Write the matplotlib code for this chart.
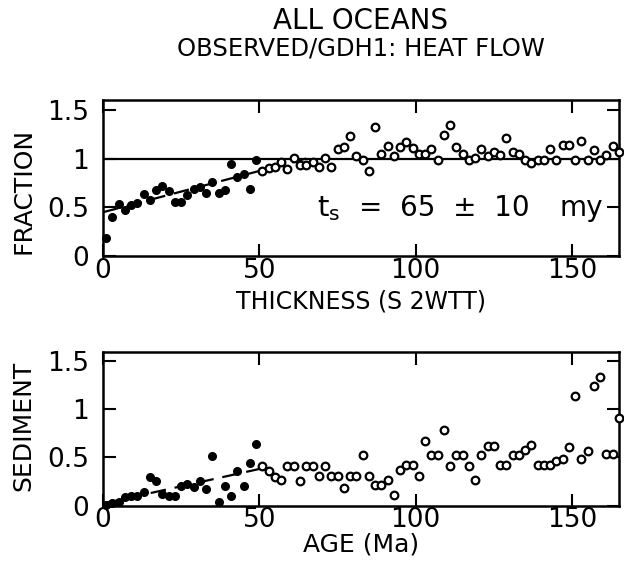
import matplotlib

matplotlib.use("Agg")
import matplotlib.pyplot as plt
import numpy as np
from matplotlib.ticker import FixedLocator, FuncFormatter

# 2 Ma age bins, centred on odd ages
age = np.arange(1, 166, 2)

# observed / GDH1 heat flow ratio per bin
heat_ratio = [
    0.19, 0.40, 0.53, 0.47, 0.52, 0.54, 0.64, 0.58, 0.68, 0.72,
    0.67, 0.55, 0.55, 0.63, 0.69, 0.71, 0.65, 0.76, 0.65, 0.68,
    0.94, 0.81, 0.84, 0.69, 0.98, 0.87, 0.90, 0.91, 0.96, 0.89,
    1.01, 0.93, 0.93, 0.96, 0.91, 1.01, 0.91, 1.10, 1.12, 1.23,
    1.03, 0.98, 0.87, 1.32, 1.05, 1.13, 1.03, 1.12, 1.17, 1.11,
    1.05, 1.05, 1.10, 0.98, 1.24, 1.34, 1.12, 1.05, 0.99, 1.01,
    1.10, 1.03, 1.07, 1.04, 1.21, 1.07, 1.05, 0.98, 0.95, 0.99,
    0.98, 1.10, 0.99, 1.14, 1.14, 0.99, 1.18, 0.99, 1.09, 0.98,
    1.04, 1.13, 1.07,
]

# sediment thickness (s two-way travel time) per bin
sediment = [
    0.01, 0.03, 0.04, 0.09, 0.10, 0.10, 0.14, 0.30, 0.25, 0.12,
    0.10, 0.10, 0.20, 0.22, 0.19, 0.26, 0.17, 0.51, 0.04, 0.20,
    0.10, 0.36, 0.20, 0.44, 0.64, 0.41, 0.36, 0.30, 0.27, 0.41,
    0.41, 0.26, 0.41, 0.41, 0.31, 0.41, 0.31, 0.31, 0.18, 0.31,
    0.31, 0.52, 0.31, 0.21, 0.21, 0.27, 0.11, 0.37, 0.42, 0.42,
    0.31, 0.67, 0.52, 0.52, 0.79, 0.41, 0.52, 0.52, 0.41, 0.27,
    0.52, 0.62, 0.62, 0.42, 0.42, 0.52, 0.52, 0.58, 0.63, 0.42,
    0.42, 0.42, 0.46, 0.48, 0.61, 1.14, 0.48, 0.57, 1.24, 1.34,
    0.54, 0.54, 0.91,
]

# linear trends over the young (filled) bins
heat_fit_age = [0, 65]
heat_fit_val = [0.45, 1.0]
sed_fit_age = [0, 50]
sed_fit_val = [0.02, 0.38]

t_s, t_s_err = 65, 10
cutoff = 50

xticks = [0, 50, 100, 150]
yticks = [0, 0.5, 1, 1.5]

plt.rcParams["font.family"] = "DejaVu Sans"

fig = plt.figure(figsize=(6.24, 5.68), dpi=100)
ax1 = fig.add_axes([0.165, 0.549, 0.827, 0.275])
ax2 = fig.add_axes([0.165, 0.110, 0.827, 0.271])

age = np.asarray(age)
young = age < cutoff


def style(ax):
    ax.set_xlim(0, 165)
    ax.set_ylim(0, 1.6)
    for s in ax.spines.values():
        s.set_linewidth(1.8)
    ax.xaxis.set_major_locator(FixedLocator(xticks))
    ax.yaxis.set_major_locator(FixedLocator(yticks))
    ax.yaxis.set_major_formatter(FuncFormatter(lambda v, _: f"{v:g}"))
    ax.tick_params(which="major", direction="in", length=9, width=1.5,
                   top=True, right=True, labelsize=19)
    ax.tick_params(axis="y", pad=10)
    ax.tick_params(axis="x", pad=1)


def draw(ax, vals, fit_age, fit_val):
    vals = np.asarray(vals)
    ax.plot(age[young], vals[young], "o", color="black", ms=5.5,
            clip_on=False, zorder=3)
    ax.plot(age[~young], vals[~young], "o", mfc="white", mec="black",
            mew=1.6, ms=5.5, clip_on=False, zorder=3)
    ax.plot(fit_age, fit_val, color="black", lw=1.6, ls=(0, (7, 4)),
            zorder=2)


style(ax1)
ax1.axhline(1, color="black", lw=1.6, zorder=1)
draw(ax1, heat_ratio, heat_fit_age, heat_fit_val)
ax1.text(68.4, 0.49, r"t$_\mathregular{s}$", fontsize=21, ha="left",
         va="center")
ax1.text(82, 0.49, f"=  {t_s}  ±  {t_s_err}", fontsize=20, ha="left",
         va="center")
ax1.text(146, 0.49, "my", fontsize=20, ha="left", va="center")
ax1.set_ylabel("FRACTION", fontsize=18)
ax1.yaxis.set_label_coords(-0.13, 0.42)
ax1.set_xlabel("THICKNESS (S 2WTT)", fontsize=17, labelpad=4)

fig.text(0.578, 0.963, "ALL OCEANS", fontsize=20, ha="center", va="center")
fig.text(0.578, 0.915, "OBSERVED/GDH1: HEAT FLOW", fontsize=17.5,
         ha="center", va="center")

style(ax2)
draw(ax2, sediment, sed_fit_age, sed_fit_val)
ax2.set_ylabel("SEDIMENT", fontsize=18)
ax2.yaxis.set_label_coords(-0.13, 0.52)
ax2.set_xlabel("AGE (Ma)", fontsize=18, labelpad=0)

fig.savefig("out.png", dpi=100)
